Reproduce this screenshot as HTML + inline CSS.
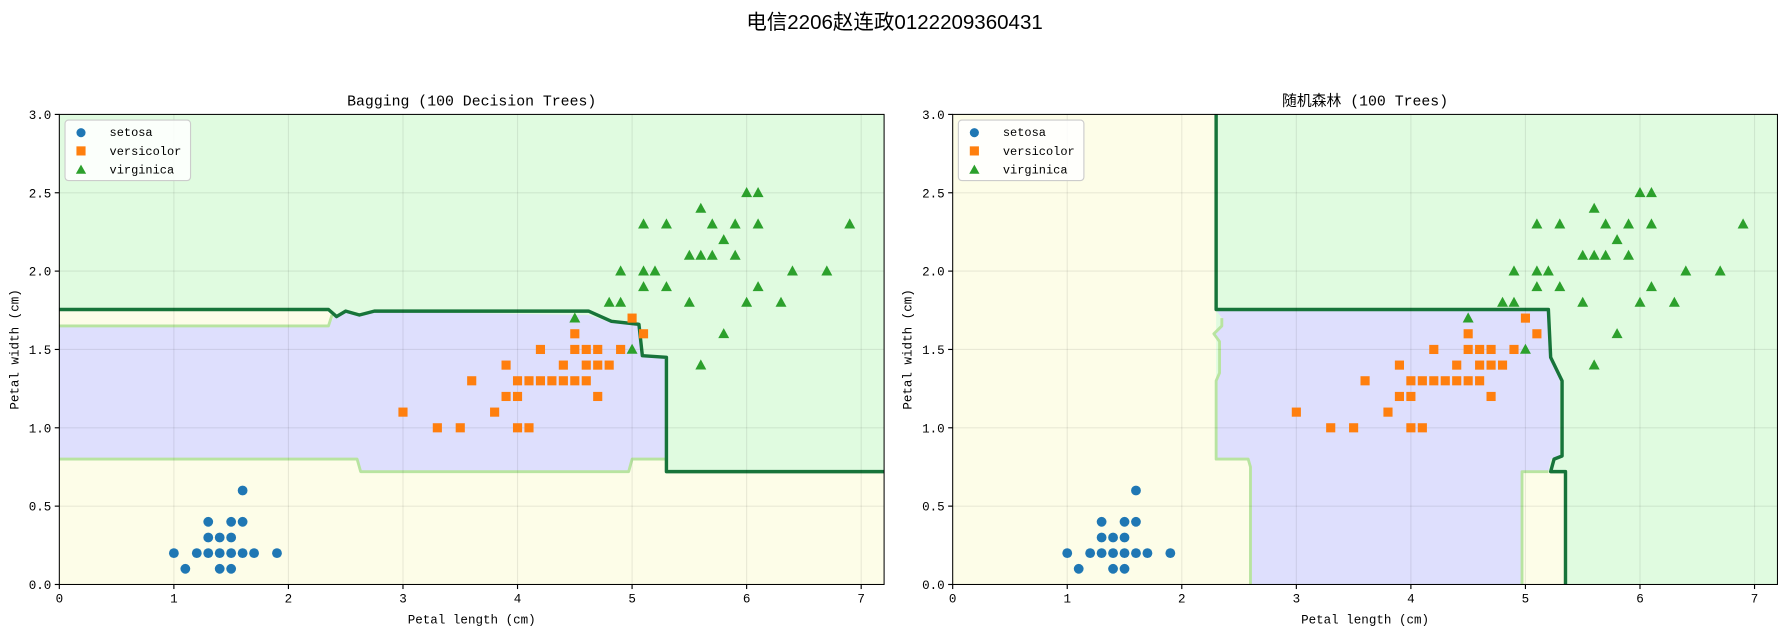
<!DOCTYPE html>
<html><head><meta charset="utf-8"><style>
html,body{margin:0;padding:0;background:#fff;}
svg text{font-family:"Liberation Mono","Noto Sans CJK SC",monospace;fill:#000;}
</style></head><body>
<svg id="s" width="1789" height="635" viewBox="0 0 1568 556" xmlns="http://www.w3.org/2000/svg">
<rect width="1568" height="556" fill="#fff"/>
<text x="784" y="25" text-anchor="middle" font-size="18" style="font-family:'Liberation Sans','Noto Sans CJK SC',sans-serif">电信2206赵连政0122209360431</text>
</svg>
<script>
var NS="http://www.w3.org/2000/svg",S=document.getElementById('s');
function el(t,a,p){var e=document.createElementNS(NS,t);for(var k in a)e.setAttribute(k,a[k]);(p||S).appendChild(e);return e;}
var setosa=[[1.0,0.2],[1.1,0.1],[1.2,0.2],[1.3,0.2],[1.3,0.3],[1.3,0.4],[1.4,0.1],[1.4,0.2],[1.4,0.3],[1.5,0.1],[1.5,0.2],[1.5,0.3],[1.5,0.4],[1.6,0.2],[1.6,0.4],[1.6,0.6],[1.7,0.2],[1.9,0.2]];
var vers=[[3.0,1.1],[3.3,1.0],[3.5,1.0],[3.6,1.3],[3.8,1.1],[3.9,1.4],[3.9,1.2],[4.0,1.0],[4.0,1.2],[4.0,1.3],[4.1,1.0],[4.1,1.3],[4.2,1.5],[4.2,1.3],[4.3,1.3],[4.4,1.3],[4.4,1.4],[4.5,1.5],[4.5,1.3],[4.5,1.6],[4.6,1.5],[4.6,1.4],[4.6,1.3],[4.7,1.4],[4.7,1.5],[4.7,1.2],[4.8,1.4],[4.9,1.5],[5.0,1.7],[5.1,1.6]];
var virg=[[4.5,1.7],[4.8,1.8],[4.9,1.8],[4.9,2.0],[5.0,1.5],[5.1,1.9],[5.1,2.0],[5.1,2.3],[5.2,2.0],[5.3,1.9],[5.3,2.3],[5.5,1.8],[5.5,2.1],[5.6,2.1],[5.6,2.4],[5.6,1.4],[5.7,2.1],[5.7,2.3],[5.8,2.2],[5.8,1.6],[5.9,2.3],[5.9,2.1],[6.0,2.5],[6.0,1.8],[6.1,2.5],[6.1,2.3],[6.1,1.9],[6.3,1.8],[6.4,2.0],[6.7,2.0],[6.9,2.3]];
var G="#e0fbe0",B="#dedffd",Y="#fdfde8",DG="#17743a",LG="#b8e4a0";
function panel(x0,title,regions,lines){
 var X=function(v){return x0+100.4*v},Yf=function(v){return 512-137.33*v};
 var W=X(7.2)-x0;
 function pts(a){return a.map(function(p){return X(p[0]).toFixed(1)+","+Yf(p[1]).toFixed(1)}).join(" ")}
 regions.forEach(function(r){el('polygon',{points:pts(r[1]),fill:r[0]});});
 lines.forEach(function(l){el('polyline',{points:pts(l[1]),fill:'none',stroke:l[0],'stroke-width':l[2],'stroke-linejoin':'round'});});
 for(var i=0;i<=7;i++)el('line',{x1:X(i),x2:X(i),y1:100,y2:512,stroke:'#000','stroke-opacity':0.08});
 for(var j=0;j<=6;j++)el('line',{x1:x0,x2:x0+W,y1:Yf(j*0.5),y2:Yf(j*0.5),stroke:'#000','stroke-opacity':0.08});
 setosa.forEach(function(p){el('circle',{cx:X(p[0]),cy:Yf(p[1]),r:4.3,fill:'#1f77b4'});});
 vers.forEach(function(p){el('rect',{x:X(p[0])-4,y:Yf(p[1])-4,width:8,height:8,fill:'#ff7f0e'});});
 virg.forEach(function(p){var x=X(p[0]),y=Yf(p[1]);el('polygon',{points:(x)+","+(y-5)+" "+(x-4.8)+","+(y+3.8)+" "+(x+4.8)+","+(y+3.8),fill:'#2ca02c'});});
 el('rect',{x:x0,y:100,width:W,height:412,fill:'none',stroke:'#000','stroke-width':0.9});
 for(var i=0;i<=7;i++){el('line',{x1:X(i),x2:X(i),y1:512,y2:516,stroke:'#000'});var t=el('text',{x:X(i),y:528,'font-size':11,'text-anchor':'middle'});t.textContent=i;}
 for(var j=0;j<=6;j++){el('line',{x1:x0-4,x2:x0,y1:Yf(j*0.5),y2:Yf(j*0.5),stroke:'#000'});var t=el('text',{x:x0-7,y:Yf(j*0.5)+4,'font-size':11,'text-anchor':'end'});t.textContent=(j*0.5).toFixed(1);}
 var t=el('text',{x:x0+W/2,y:546,'font-size':11,'text-anchor':'middle'});t.textContent="Petal length (cm)";
 t=el('text',{x:0,y:0,'font-size':11,'text-anchor':'middle',transform:'translate('+(x0-36)+',306) rotate(-90)'});t.textContent="Petal width (cm)";
 t=el('text',{x:x0+W/2,y:92,'font-size':13,'text-anchor':'middle'});t.textContent=title;
 el('rect',{x:x0+5,y:105,width:110,height:53,rx:3,fill:'#fff','fill-opacity':0.85,stroke:'#ccc'});
 el('circle',{cx:x0+19,cy:116,r:4,fill:'#1f77b4'});
 el('rect',{x:x0+15,y:128,width:8,height:8,fill:'#ff7f0e'});
 el('polygon',{points:(x0+19)+",144 "+(x0+14.5)+",152 "+(x0+23.5)+",152",fill:'#2ca02c'});
 ["setosa","versicolor","virginica"].forEach(function(s,k){var t=el('text',{x:x0+44,y:119+k*16.5,'font-size':10.5});t.textContent=s;});
}
panel(52,"Bagging (100 Decision Trees)",[
 [G,[[0,0],[7.2,0],[7.2,3],[0,3]]],
 [Y,[[0,0],[7.2,0],[7.2,0.72],[5.3,0.72],[5.3,0.8],[5.0,0.8],[4.97,0.72],[2.63,0.72],[2.6,0.8],[0,0.8]]],
 [Y,[[0,1.65],[2.35,1.65],[2.38,1.73],[2.36,1.75],[0,1.75]]],
 [B,[[0,0.8],[2.6,0.8],[2.63,0.72],[4.97,0.72],[5.0,0.8],[5.3,0.8],[5.3,1.45],[5.1,1.45],[5.08,1.65],[4.82,1.67],[4.62,1.72],[2.75,1.74],[2.62,1.71],[2.5,1.74],[2.4,1.71],[2.35,1.65],[0,1.65]]]
],[
 [LG,[[0,0.8],[2.6,0.8],[2.63,0.72],[4.97,0.72],[5.0,0.8],[5.3,0.8]],2.5],
 [LG,[[0,1.65],[2.35,1.65],[2.38,1.72]],2.5],
 [DG,[[0,1.755],[2.35,1.755],[2.42,1.71],[2.5,1.745],[2.62,1.72],[2.75,1.745],[4.62,1.745],[4.82,1.68],[5.06,1.66],[5.09,1.46],[5.3,1.45],[5.3,0.72],[7.2,0.72]],3]
]);
panel(835,"随机森林 (100 Trees)",[
 [G,[[0,0],[7.2,0],[7.2,3],[0,3]]],
 [Y,[[0,0],[2.6,0],[2.6,0.8],[2.3,0.8],[2.3,1.75],[2.3,3],[0,3]]],
 [Y,[[4.97,0],[5.35,0],[5.35,0.72],[4.97,0.72]]],
 [B,[[2.3,0.8],[2.58,0.8],[2.6,0.75],[2.6,0],[4.97,0],[4.97,0.72],[5.2,0.72],[5.22,0.8],[5.3,0.82],[5.3,1.3],[5.22,1.45],[5.2,1.75],[2.3,1.75],[2.35,1.7],[2.35,1.65],[2.28,1.6],[2.33,1.55],[2.33,1.35],[2.3,1.3]]]
],[
 [LG,[[2.35,1.7],[2.35,1.65],[2.28,1.6],[2.33,1.55],[2.33,1.35],[2.3,1.3],[2.3,0.8],[2.58,0.8],[2.6,0.75],[2.6,0]],2.5],
 [LG,[[4.97,0],[4.97,0.72],[5.2,0.72]],2.5],
 [DG,[[2.3,3],[2.3,1.755],[5.2,1.755],[5.22,1.45],[5.32,1.3],[5.32,0.82],[5.25,0.8],[5.22,0.72],[5.35,0.72],[5.35,0]],3]
]);
</script>
</body></html>
